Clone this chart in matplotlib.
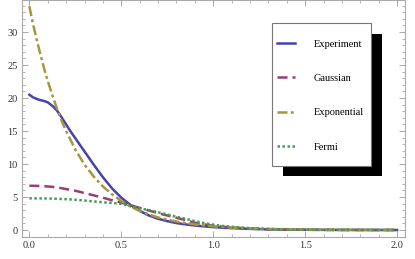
import matplotlib
matplotlib.use("Agg")
import matplotlib.pyplot as plt
from matplotlib.patches import Rectangle
from matplotlib.ticker import MultipleLocator

# values
x = [0.0, 0.02, 0.05, 0.08, 0.1, 0.13, 0.15, 0.17, 0.2, 0.225, 0.25, 0.3, 0.35, 0.4, 0.45,
     0.5, 0.55, 0.6, 0.65, 0.7, 0.75, 0.8, 0.85, 0.9, 0.95, 1.0, 1.05, 1.1, 1.2, 1.3,
     1.4, 1.5, 1.6, 1.7, 1.8, 1.9, 2.0]
experiment = [20.5, 20.1, 19.75, 19.55, 19.35, 18.7, 18.1, 17.3, 16.0, 14.9, 13.9, 11.9, 9.9, 8.0, 6.3,
              4.9, 3.8, 2.9, 2.2, 1.7, 1.35, 1.05, 0.85, 0.68, 0.55, 0.44, 0.35, 0.28, 0.17, 0.1,
              0.06, 0.04, 0.02, 0.01, 0.01, 0.0, 0.0]
gaussian = [6.7, 6.7, 6.68, 6.64, 6.6, 6.52, 6.45, 6.36, 6.2, 6.08, 5.95, 5.6, 5.25, 4.9, 4.5,
            4.15, 3.75, 3.35, 2.95, 2.55, 2.2, 1.85, 1.5, 1.1, 0.85, 0.65, 0.5, 0.38, 0.2, 0.11,
            0.06, 0.03, 0.02, 0.01, 0.0, 0.0, 0.0]
exponential = [33.9, 31.2, 27.7, 24.5, 22.6, 20.0, 18.4, 16.9, 15.0, 13.6, 12.2, 9.9, 8.1, 6.6, 5.4,
               4.4, 3.55, 2.9, 2.36, 1.9, 1.57, 1.28, 1.04, 0.85, 0.69, 0.56, 0.46, 0.37, 0.25, 0.16,
               0.11, 0.07, 0.05, 0.03, 0.02, 0.01, 0.01]
fermi = [4.8, 4.8, 4.79, 4.78, 4.77, 4.75, 4.73, 4.7, 4.67, 4.63, 4.58, 4.47, 4.33, 4.2, 4.1,
         3.95, 3.6, 3.3, 3.0, 2.7, 2.35, 2.0, 1.7, 1.35, 1.05, 0.82, 0.62, 0.48, 0.28, 0.16,
         0.09, 0.05, 0.03, 0.02, 0.01, 0.01, 0.0]

labels = ["Experiment", "Gaussian", "Exponential", "Fermi"]
colors = ["#4444aa", "#9a3d72", "#a8963e", "#3fa052"]

plt.rcParams["font.family"] = ["Liberation Serif", "DejaVu Serif"]

W, H = 415, 259
fig = plt.figure(figsize=(W / 100, H / 100), dpi=100)
ax = fig.add_axes([22 / W, 22 / H, 383 / W, 237 / H])

lw = 1.8
ax.plot(x, experiment, color=colors[0], lw=lw, linestyle="-", label=labels[0])
ax.plot(x, gaussian, color=colors[1], lw=lw, linestyle=(0, (4, 2)), label=labels[1])
ax.plot(x, exponential, color=colors[2], lw=lw, linestyle=(0, (4, 1.3, 1.2, 1.3)), label=labels[2])
ax.plot(x, fermi, color=colors[3], lw=lw, linestyle=(0, (1, 1)), label=labels[3])

ax.set_xlim(-0.04, 2.043)
ax.set_ylim(-1.06, 34.85)

ax.xaxis.set_major_locator(MultipleLocator(0.5))
ax.xaxis.set_minor_locator(MultipleLocator(0.1))
ax.yaxis.set_major_locator(MultipleLocator(5))
ax.yaxis.set_minor_locator(MultipleLocator(1))
ax.xaxis.set_major_formatter(plt.FuncFormatter(lambda v, p: f"{v:.1f}"))

ax.tick_params(which="both", direction="in", top=True, right=True,
               color="#999999", labelsize=7.5, labelcolor="#333333", pad=3)
ax.tick_params(which="major", length=4, width=0.6)
ax.tick_params(which="minor", length=2, width=0.5)
for s in ax.spines.values():
    s.set_color("#aaaaaa")
    s.set_linewidth(0.8)

# legend box with a hard black shadow, in figure pixels
def fig_rect(x0, y0, x1, y1, **kw):
    r = Rectangle((x0 / W, 1 - y1 / H), (x1 - x0) / W, (y1 - y0) / H,
                  transform=fig.transFigure, clip_on=False, **kw)
    ax.add_artist(r)

fig_rect(283, 34, 382, 176, facecolor="black", edgecolor="none", zorder=4)
fig_rect(272, 23, 371, 166, facecolor="white", edgecolor="#777777", lw=0.8, zorder=4.5)

leg = ax.legend(loc="upper left", bbox_to_anchor=(277 / W, 1 - 39.5 / H),
                bbox_transform=fig.transFigure, fontsize=7.5, frameon=False,
                handlelength=1.75, handletextpad=1.75, labelspacing=2.4,
                borderpad=0, borderaxespad=0)
leg.set_zorder(6)

fig.savefig("out.png", dpi=100)
